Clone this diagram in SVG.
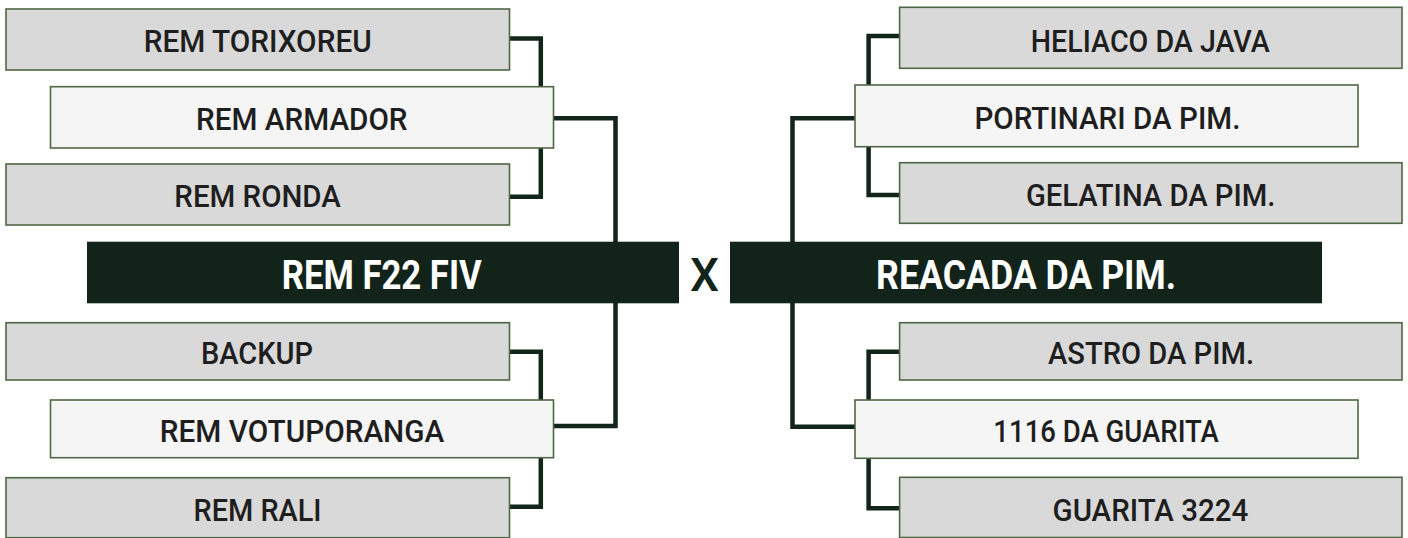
<svg xmlns="http://www.w3.org/2000/svg" width="1408" height="538" viewBox="0 0 1408 538">
<style>
.bg{fill:#ffffff}
.conn{fill:none;stroke:#12251a;stroke-width:4.5;stroke-linejoin:miter}
.g{fill:#d9d9d9;stroke:#4f6645;stroke-width:1.6}
.l{fill:#f5f5f5;stroke:#4f6645;stroke-width:1.6}
.d{fill:#12241a}
.t{font-family:Roboto,"Liberation Sans",sans-serif;font-weight:500;font-size:31.5px;fill:#1e1e1e;text-anchor:middle}
.m{font-family:Roboto,"Liberation Sans",sans-serif;font-weight:700;font-size:40px;fill:#ffffff;text-anchor:middle}
.x{font-family:Roboto,"Liberation Sans",sans-serif;font-weight:500;font-size:46px;fill:#12241a;text-anchor:middle}
</style>
<rect class="bg" x="0" y="0" width="1408" height="538"/>
<g id="connectors">
<path class="conn" d="M509.5 38.5 H540.8 V196.7 H509.5"/>
<path class="conn" d="M553.4 118.3 H615.5 V426 H553.4"/>
<path class="conn" d="M509.5 351.7 H540.8 V506.7 H509.5"/>
<path class="conn" d="M899.6 36 H868.6 V195 H899.6"/>
<path class="conn" d="M855 118.3 H792.5 V426.7 H855"/>
<path class="conn" d="M899.6 351.7 H868.6 V508.3 H899.6"/>
</g>
<g id="n-torixoreu"><rect class="g" x="6" y="9" width="503.5" height="61"/><text class="t" x="257.7" y="51.7" textLength="228" lengthAdjust="spacingAndGlyphs">REM TORIXOREU</text></g>
<g id="n-armador"><rect class="l" x="50.5" y="86.7" width="503" height="61.3"/><text class="t" x="301.8" y="130" textLength="211.5" lengthAdjust="spacingAndGlyphs">REM ARMADOR</text></g>
<g id="n-ronda"><rect class="g" x="6" y="164" width="503.5" height="61"/><text class="t" x="257.6" y="206.7" textLength="166.5" lengthAdjust="spacingAndGlyphs">REM RONDA</text></g>
<g id="n-f22"><rect class="d" x="87" y="241.7" width="592" height="61.6"/><text class="m" x="381.7" y="289.3" textLength="200" lengthAdjust="spacingAndGlyphs">REM F22 FIV</text></g>
<g id="n-backup"><rect class="g" x="6" y="322.7" width="503.5" height="57.3"/><text class="t" x="257" y="364" textLength="112" lengthAdjust="spacingAndGlyphs">BACKUP</text></g>
<g id="n-votuporanga"><rect class="l" x="50.5" y="400" width="503" height="57.7"/><text class="t" x="302" y="441.7" textLength="284.5" lengthAdjust="spacingAndGlyphs">REM VOTUPORANGA</text></g>
<g id="n-rali"><rect class="g" x="6" y="477.7" width="503.5" height="60"/><text class="t" x="257.5" y="521" textLength="128" lengthAdjust="spacingAndGlyphs">REM RALI</text></g>
<g id="vs"><text class="x" x="704.5" y="290.7">X</text></g>
<g id="n-heliaco"><rect class="g" x="899.6" y="7.3" width="502.4" height="61"/><text class="t" x="1150.3" y="51.7" textLength="239" lengthAdjust="spacingAndGlyphs">HELIACO DA JAVA</text></g>
<g id="n-portinari"><rect class="l" x="855" y="85" width="503" height="61.7"/><text class="t" x="1107.4" y="129.3" textLength="266" lengthAdjust="spacingAndGlyphs">PORTINARI DA PIM.</text></g>
<g id="n-gelatina"><rect class="g" x="899.6" y="162.7" width="502.4" height="60.6"/><text class="t" x="1150.6" y="206" textLength="249.4" lengthAdjust="spacingAndGlyphs">GELATINA DA PIM.</text></g>
<g id="n-reacada"><rect class="d" x="730" y="241.7" width="592" height="61.6"/><text class="m" x="1026.1" y="289.3" textLength="300" lengthAdjust="spacingAndGlyphs">REACADA DA PIM.</text></g>
<g id="n-astro"><rect class="g" x="899.6" y="322.7" width="502.4" height="57.3"/><text class="t" x="1151" y="364.3" textLength="206" lengthAdjust="spacingAndGlyphs">ASTRO DA PIM.</text></g>
<g id="n-1116"><rect class="l" x="855" y="400" width="503" height="58.3"/><text class="t" x="1106.1" y="442.3" textLength="225.5" lengthAdjust="spacingAndGlyphs">1116 DA GUARITA</text></g>
<g id="n-guarita"><rect class="g" x="899.6" y="477.3" width="502.4" height="60.2"/><text class="t" x="1150.4" y="521" textLength="195.7" lengthAdjust="spacingAndGlyphs">GUARITA 3224</text></g>
</svg>
